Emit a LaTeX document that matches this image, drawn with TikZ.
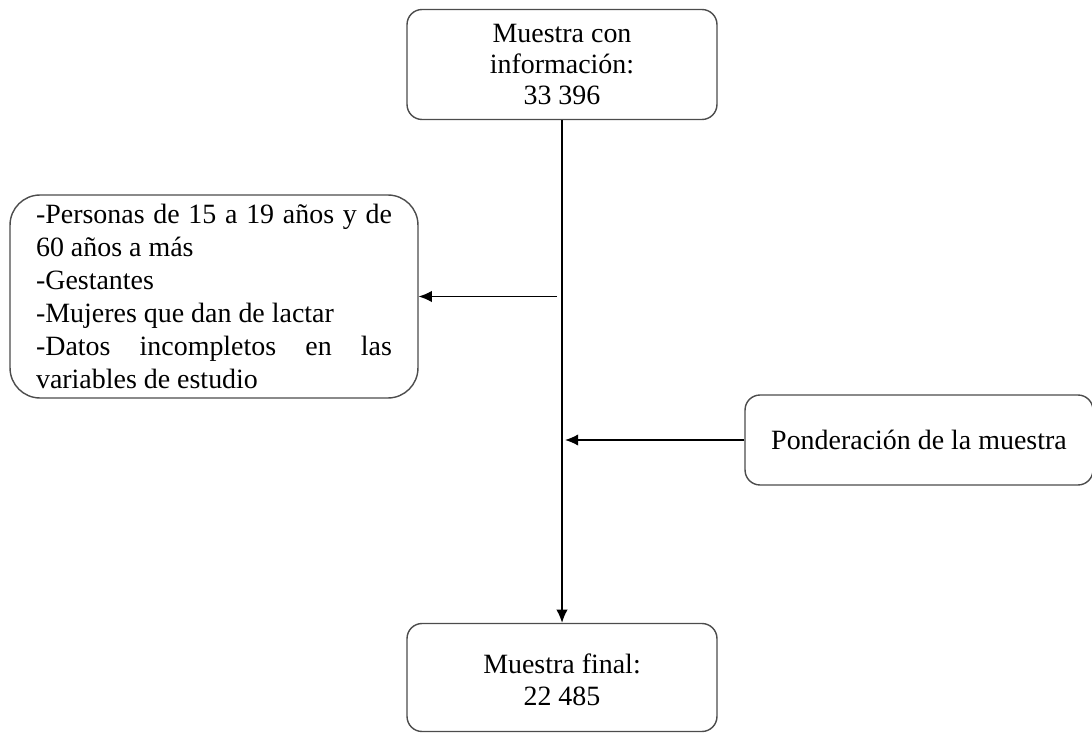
\documentclass[tikz,border=0pt]{standalone}
\usepackage{fontspec}
\setmainfont{Liberation Serif}
\usetikzlibrary{arrows.meta}
\hyphenpenalty=10000
\exhyphenpenalty=10000
\tolerance=10000

\begin{document}
\begin{tikzpicture}[x=0.02cm,y=-0.02cm,>={Latex[length=7.5pt,width=6.5pt]},
    line width=0.8pt,
    stage box/.style={draw=black!70,rounded corners=0.3cm,align=center,
      minimum width=6.2cm,minimum height=2.2cm,inner sep=0pt,
      font=\fontsize{15.9}{17.8}\selectfont},
    list box/.style={draw=black!70,rounded corners=0.6cm,text width=7.12cm,
      minimum width=8.16cm,minimum height=4.06cm,align=justify,inner sep=0pt,
      font=\fontsize{15.9}{18.7}\selectfont},
    side box/.style={draw=black!70,rounded corners=0.3cm,
      minimum width=6.96cm,minimum height=1.8cm,inner sep=0pt,
      font=\fontsize{15.9}{17.8}\selectfont}]
    \useasboundingbox (0,0) rectangle (1092,733);

    \node[stage box] (muestra) at (562,64.5) {Muestra con\\ información:\\ 33 396};
    \node[list box] (excluidos) at (214,296.5) {%
      -Personas de 15 a 19 años y de 60 años a más\\
      -Gestantes\\
      -Mujeres que dan de lactar\\
      -Datos incompletos en las \mbox{variables} de estudio};
    \node[side box] (ponderacion) at (919,440) {Ponderación de la muestra};
    \node[stage box,minimum height=2.16cm] (final) at (562,677.5) {\\[-4pt]Muestra final:\\ 22 485};

    \coordinate (salida) at (557,296.5);
    \coordinate (entrada) at (565,440);

    \draw[->] (muestra) -- (final);
    \draw[->] (salida) -- (excluidos);
    \draw[->] (ponderacion) -- (entrada);
\end{tikzpicture}
\end{document}
